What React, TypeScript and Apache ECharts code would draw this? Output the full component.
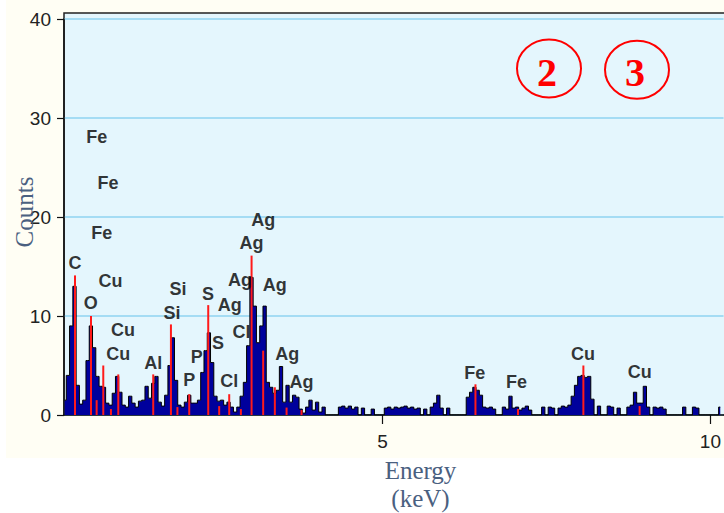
import React, { useEffect, useRef } from "react";
import * as echarts from "echarts";

// spectrum: counts per 0.05 keV bin, first bin centred at 0.15 keV
const binStart = 0.15;
const binWidth = 0.05;
const counts = [
  1.5, 4, 9, 13, 3, 1.1, 1.5, 5.5, 9, 6.8,
  3.9, 2.9, 2.8, 1.2, 1.0, 2.2, 3.9, 2.3, 1.0, 0.8,
  1.9, 1.2, 0.8, 1.4, 1.5, 2.9, 1.7, 3.2, 3.9, 1.3,
  0.9, 2.0, 5.0, 7.8, 3.5, 1.0, 0.8, 1.3, 2.0, 1.2,
  1.2, 1.5, 4.3, 6.5, 8.3, 5.3, 1.9, 1.4, 1.5, 1.0,
  1.3, 0.8, 0.3, 0.8, 1.9, 3.3, 7.0, 13.9, 11.0, 7.3,
  9.0, 11.0, 3.3, 2.8, 2.2, 2.5, 4.9, 1.3, 3.0, 1.3,
  2.0, 1.8, 0.6, 0.2, 0.8, 1.5, 0.5, 1.3, 0.3, 0.8,
  0, 0, 0, 0, 0.8, 0.9, 0.7, 0.9, 0.6, 0.8,
  0, 0.7, 0, 0, 0.6, 0, 0, 0, 0.7, 0.8,
  0.6, 0.8, 0.7, 0.8, 0.9, 0.7, 0.8, 0.6, 0.7, 0,
  0.6, 0, 0.8, 1.2, 2.0, 0.7, 0, 0.7, 0, 0,
  0, 0, 0, 1.8, 2.3, 2.8, 2.5, 2.0, 0.8, 0.7,
  0.8, 0.6, 0, 0, 0.8, 0.6, 1.9, 0.7, 0.8, 0.5,
  0.7, 0.9, 0.5, 0, 0, 0, 0.8, 0, 0.8, 0.7,
  0, 0.7, 0.9, 0.8, 1.0, 1.9, 3.0, 3.9, 4.0, 3.8,
  3.9, 1.6, 0, 0.9, 0, 0, 0.9, 0.8, 0, 0.7,
  0, 0, 0.8, 1.0, 2.3, 1.2, 1.2, 2.9, 0.8, 0,
  0.8, 0.7, 0.8, 0.6, 0, 0, 0, 0, 0, 0.8,
  0, 0, 0.8, 0.7, 0, 0, 0, 0, 0, 0,
  0.8,
];

// red element marker lines
const markerEnergy = [0.308, 0.552, 0.638, 0.739, 0.856, 0.968, 1.501, 1.771, 1.87, 2.05, 2.34, 2.507, 2.66, 2.838, 3.001, 3.178, 3.356, 3.535, 3.763, 6.416, 7.065, 8.062, 8.92];
const markerHeight = [14.1, 10.0, 1.5, 5.0, 0.6, 4.1, 4.1, 9.15, 0.8, 2.1, 11.1, 0.9, 2.1, 0.6, 16.1, 6.5, 2.8, 0.75, 0.5, 3.1, 0.6, 5.0, 0.9];

// element labels
const labelNames = ["Fe", "Fe", "Fe", "C", "Cu", "O", "Si", "Si", "S", "Ag", "Cu", "Cl", "S", "Cu", "Al", "P", "P", "Cl", "Ag", "Ag", "Ag", "Ag", "Ag", "Ag", "Fe", "Fe", "Cu", "Cu"];
const labelEnergy = [0.638, 0.811, 0.715, 0.308, 0.849, 0.547, 1.878, 1.786, 2.335, 2.67, 1.039, 2.849, 2.488, 0.968, 1.501, 2.163, 2.05, 2.66, 3.178, 3.001, 2.823, 3.356, 3.544, 3.763, 6.405, 7.041, 8.056, 8.92];
const labelCount = [28.1, 23.4, 18.4, 15.4, 13.5, 11.3, 12.7, 10.3, 12.2, 11.1, 8.6, 8.4, 7.3, 6.2, 5.3, 5.9, 3.5, 3.4, 19.7, 17.4, 13.6, 13.1, 6.2, 3.3, 4.2, 3.3, 6.2, 4.3];

const xTicks = [5, 10];
const yTicks = [0, 10, 20, 30, 40];

export default function App() {
  const ref = useRef<HTMLDivElement>(null);
  useEffect(() => {
    document.body.style.margin = "0";
    const chart = echarts.init(ref.current!, undefined, { renderer: "svg" });
    const spectrum = counts.map((c, i) => [+(binStart + i * binWidth).toFixed(3), c]);
    const markers = markerEnergy.map((e, i) => [e, markerHeight[i]]);
    const labels = labelNames.map((n, i) => ({ name: n, value: [labelEnergy[i], labelCount[i]] }));
    const titleColor = "#4a6080";
    chart.setOption({
      animation: false,
      grid: { left: 64, right: 0, top: 19, bottom: 98 },
      xAxis: {
        type: "value",
        min: 0.14,
        max: 10.2,
        axisLine: { show: true, onZero: false, lineStyle: { color: "#111", width: 1.5 } },
        axisTick: { show: true, length: 9, customValues: xTicks, lineStyle: { color: "#111", width: 1.2 } },
        axisLabel: { customValues: xTicks, fontSize: 19, color: "#222", margin: 17, fontFamily: "Liberation Sans" },
        splitLine: { show: false },
      },
      yAxis: {
        type: "value",
        min: 0,
        max: 40,
        interval: 10,
        axisLine: { show: true, lineStyle: { color: "#111", width: 1.5 } },
        axisTick: { show: true, length: 7, lineStyle: { color: "#111", width: 1.2 } },
        axisLabel: { fontSize: 19, color: "#222", margin: 13, fontFamily: "Liberation Sans", formatter: (v: number) => (yTicks.includes(v) ? String(v) : "") },
        splitLine: { show: true, lineStyle: { color: "#8fd3f0", width: 1.5 } },
      },
      graphic: [
        { type: "rect", silent: true, z: -10, shape: { x: 6, y: 0, width: 718, height: 458 }, style: { fill: "#fffef4" } },
        { type: "rect", silent: true, z: -5, shape: { x: 64, y: 13, width: 690, height: 402 }, style: { fill: "#e4f6fd", stroke: "#222", lineWidth: 1.5 } },
        { type: "ellipse", z: 10, shape: { cx: 549, cy: 68.5, rx: 32, ry: 29 }, style: { fill: "transparent", stroke: "#ff0000", lineWidth: 2 } },
        { type: "ellipse", z: 10, shape: { cx: 637, cy: 69.7, rx: 32, ry: 29 }, style: { fill: "transparent", stroke: "#ff0000", lineWidth: 2 } },
        { type: "text", z: 10, x: 547, y: 72, style: { text: "2", fill: "#ff0000", fontSize: 40, fontWeight: "bold", fontFamily: "Liberation Serif", align: "center", verticalAlign: "middle" } },
        { type: "text", z: 10, x: 635, y: 72, style: { text: "3", fill: "#ff0000", fontSize: 40, fontWeight: "bold", fontFamily: "Liberation Serif", align: "center", verticalAlign: "middle" } },
        { type: "text", z: 10, x: 24, y: 212, rotation: Math.PI / 2, style: { text: "Counts", fill: titleColor, fontSize: 25, fontFamily: "Liberation Serif", align: "center", verticalAlign: "middle" } },
        { type: "text", z: 10, x: 420.5, y: 470, style: { text: "Energy", fill: titleColor, fontSize: 25, fontFamily: "Liberation Serif", align: "center", verticalAlign: "middle" } },
        { type: "text", z: 10, x: 420.5, y: 498, style: { text: "(keV)", fill: titleColor, fontSize: 25, fontFamily: "Liberation Serif", align: "center", verticalAlign: "middle" } },
      ],
      series: [
        {
          type: "line",
          data: spectrum,
          step: "middle",
          symbol: "none",
          lineStyle: { color: "#000", width: 1 },
          areaStyle: { color: "#00009c", opacity: 1 },
          z: 2,
        },
        {
          type: "bar",
          data: markers,
          barWidth: 2,
          itemStyle: { color: "#ff1a1a" },
          z: 3,
        },
        {
          type: "scatter",
          data: labels,
          symbolSize: 1,
          itemStyle: { color: "rgba(0,0,0,0)" },
          label: {
            show: true,
            position: "inside",
            formatter: "{b}",
            fontSize: 18,
            fontWeight: "bold",
            fontFamily: "Liberation Sans",
            color: "#000",
          },
          z: 4,
        },
      ],
    });
    return () => chart.dispose();
  }, []);
  return <div ref={ref} style={{ width: 724, height: 513 }} />;
}
